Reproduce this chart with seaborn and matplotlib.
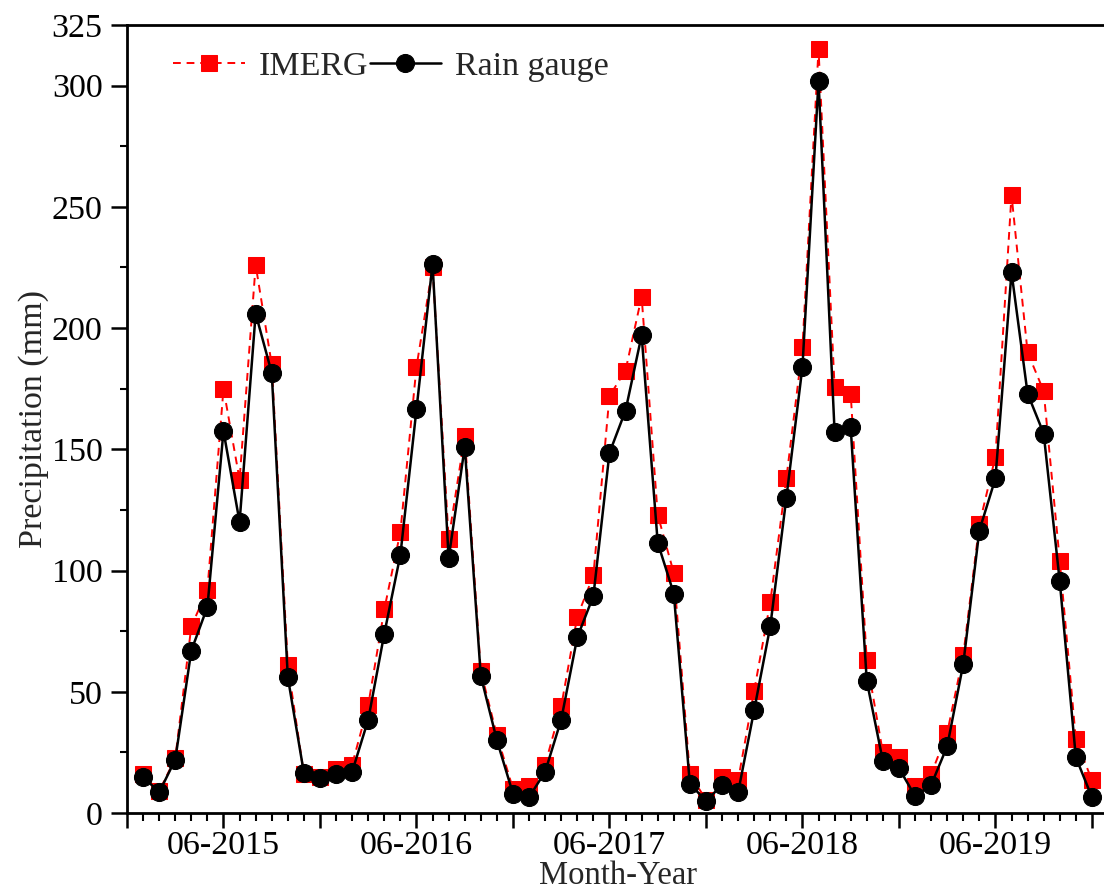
import matplotlib
matplotlib.use("Agg")
import matplotlib.pyplot as plt
import seaborn as sns
import pandas as pd
from matplotlib.ticker import FixedLocator

# monthly series, Jan 2015 .. Dec 2019
months = pd.date_range("2015-01-01", periods=60, freq="MS").strftime("%m-%Y").tolist()

imerg = [16, 9, 22.5, 77, 92, 175, 137.5, 226, 185, 61, 16, 15,
         18, 20, 44.5, 84, 116, 184, 225, 113, 155.5, 58.5, 32, 10,
         11, 20, 44, 81, 98, 172, 182.5, 213, 123, 99, 16, 5.5,
         15, 13.5, 50.5, 87, 138, 192, 315, 175.5, 173, 63, 25, 23,
         11, 16, 33, 65, 119, 147, 255, 190, 174, 104, 30.5, 13.5]

gauge = [15, 8.5, 22, 67, 85, 157.5, 120, 206, 181.5, 56, 16.5, 14.5,
         16, 17, 38.5, 74, 106.5, 166.5, 226.5, 105, 151, 56.5, 30, 8,
         6.5, 17, 38.5, 72.5, 89.5, 148.5, 166, 197, 111.5, 90.5, 12, 5,
         11.5, 8.5, 42.5, 77, 130, 184, 302, 157, 159, 54.5, 21.5, 18.5,
         7, 11.5, 27.5, 61.5, 116.5, 138, 223, 173, 156.5, 95.5, 23, 6.5]

tick_labels = ["06-2015", "06-2016", "06-2017", "06-2018", "06-2019"]

df = pd.DataFrame({"month": months, "IMERG": imerg, "Rain gauge": gauge})
df["idx"] = range(len(df))

sns.set_style("ticks")
plt.rcParams["font.family"] = ["Liberation Serif", "DejaVu Serif"]
fs = 24.5

fig = plt.figure(figsize=(11.04, 8.94), dpi=100)
ax = fig.add_axes([127 / 1104, 81 / 894, 981 / 1104, 788 / 894])

sns.lineplot(data=df, x="idx", y="IMERG", ax=ax, color="red", linestyle=(0, (4, 3)),
             linewidth=1.4, marker="s", markersize=12, markeredgecolor="red",
             label="IMERG")
sns.lineplot(data=df, x="idx", y="Rain gauge", ax=ax, color="black", linewidth=1.8,
             marker="o", markersize=13, markeredgecolor="black", label="Rain gauge")

ax.set_xlim(-1, 60)
ax.set_ylim(0, 325)

pos = [df.index[df["month"] == t][0] for t in tick_labels]
major = list(range(-1, 61, 6))
ax.xaxis.set_major_locator(FixedLocator(major))
ax.set_xticklabels([tick_labels[pos.index(m)] if m in pos else "" for m in major])
ax.xaxis.set_minor_locator(FixedLocator(list(range(-1, 61))))

ax.set_yticks([0, 50, 100, 150, 200, 250, 300, 325])
ax.yaxis.set_minor_locator(FixedLocator([25, 75, 125, 175, 225, 275]))

ax.tick_params(axis="both", which="major", direction="out", width=1.8,
               labelsize=fs, color="black", labelcolor="black")
ax.tick_params(axis="x", which="major", length=10.5, pad=2)
ax.tick_params(axis="y", which="major", length=11.5, pad=6)
ax.tick_params(axis="x", which="minor", direction="out", length=6, width=1.5, color="black")
ax.tick_params(axis="y", which="minor", direction="out", length=5, width=1.5, color="black")

for s in ax.spines.values():
    s.set_linewidth(2)
    s.set_color("black")

ax.set_xlabel("Month-Year", fontsize=23.5, labelpad=-0.5)
ax.set_ylabel("Precipitation (mm)", fontsize=fs, labelpad=2)

ax.legend(loc="upper left", bbox_to_anchor=(0.016, 1.006), ncol=2, frameon=False,
          fontsize=fs, handlelength=2.1, handletextpad=0.4, columnspacing=0.05)

fig.savefig("out.png", dpi=100)
